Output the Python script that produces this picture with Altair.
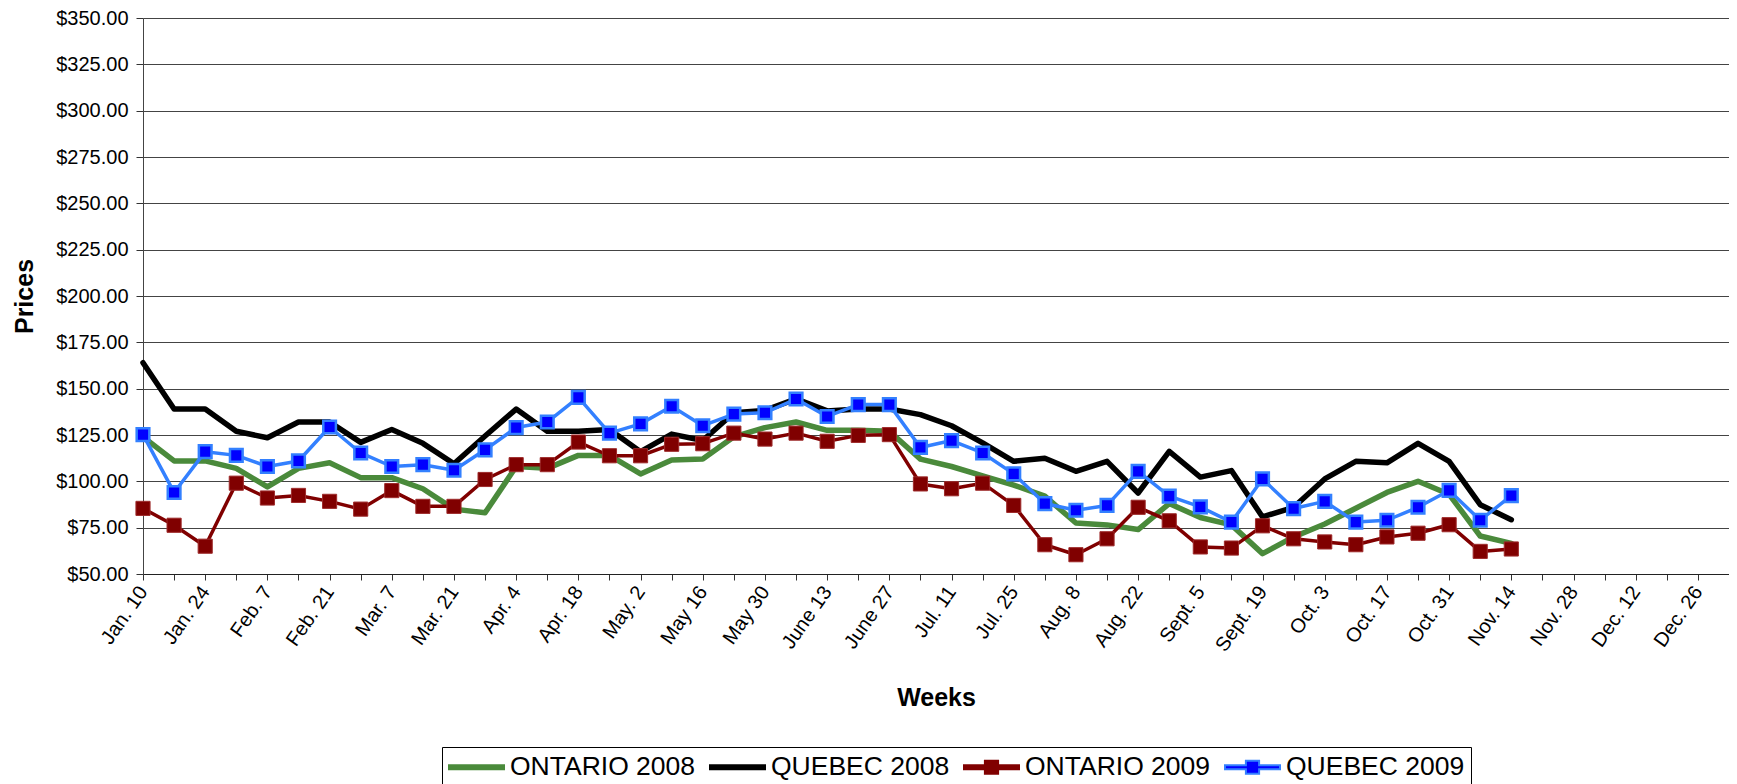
import altair as alt
import pandas as pd

weeks = ["Jan. 10", "Jan. 17", "Jan. 24", "Jan. 31", "Feb. 7", "Feb. 14", "Feb. 21", "Feb. 28",
         "Mar. 7", "Mar. 14", "Mar. 21", "Mar. 28", "Apr. 4", "Apr. 11", "Apr. 18", "Apr. 25",
         "May. 2", "May 9", "May 16", "May 23", "May 30", "June 6", "June 13", "June 20",
         "June 27", "Jul. 4", "Jul. 11", "Jul. 18", "Jul. 25", "Aug. 1", "Aug. 8", "Aug. 15",
         "Aug. 22", "Aug. 29", "Sept. 5", "Sept. 12", "Sept. 19", "Sept. 26", "Oct. 3", "Oct. 10",
         "Oct. 17", "Oct. 24", "Oct. 31", "Nov. 7", "Nov. 14", "Nov. 21", "Nov. 28", "Dec. 5",
         "Dec. 12", "Dec. 19", "Dec. 26"]

ontario_2008 = [124, 111, 111, 107, 97, 107, 110, 102, 102, 96, 85, 83, 108, 107, 114, 114,
                104, 111.5, 112, 124, 129, 132, 127.5, 127.5, 127, 112, 108, 103, 98, 92, 77.5,
                76.5, 74, 88, 80.5, 76.5, 61, 70, 77, 85.5, 94, 100, 93, 70.5, 66.5]

quebec_2008 = [164, 139, 139, 127, 123.5, 132, 132, 121, 128, 120.5, 109.5, 124.5, 139, 127, 127,
               128, 116, 125.5, 122, 137, 138.3, 144.5, 138, 139, 139, 136, 130, 120.7, 110.8,
               112.5, 105.4, 110.8, 93.7, 116.2, 102.3, 105.8, 80.8, 86, 101.3, 110.8, 110,
               120.5, 110.8, 87.4, 79.3]

ontario_2009 = [85.4, 76.3, 65, 99, 91, 92.4, 89.2, 85, 95, 86.5, 86.5, 101, 109, 109, 121.2,
                113.8, 113.8, 120, 120.3, 126, 122.8, 126, 121.6, 124.8, 125.2, 98.6, 96, 99, 87,
                65.8, 60.4, 69, 86, 78.7, 64.6, 64, 76, 69, 67.3, 65.8, 70, 72, 76.6, 62.2, 63.5]

quebec_2009 = [125.2, 94, 116, 114, 108, 111, 129.3, 115.3, 108, 109, 106, 117, 129, 132, 145.3,
               126, 131, 140.5, 130, 136.3, 137, 144.4, 135, 141.4, 141.4, 118.3, 122, 115.3, 104,
               88, 84.4, 87, 105.4, 92, 86.2, 78, 101.3, 85.3, 89.2, 78, 79, 86, 95.1, 79, 92.3]

series_names = ["ONTARIO 2008", "QUEBEC 2008", "ONTARIO 2009", "QUEBEC 2009"]
series_values = [ontario_2008, quebec_2008, ontario_2009, quebec_2009]

GREEN = "#4A8A3B"
BLACK = "#000000"
DARKRED = "#800000"
LIGHTBLUE = "#3380FF"
BLUE = "#0000FF"

line_colors = [GREEN, BLACK, DARKRED, LIGHTBLUE]
fill_colors = [GREEN, BLACK, DARKRED, BLUE]

rows = []
for name, vals in zip(series_names, series_values):
    for i, v in enumerate(vals):
        rows.append({"series": name, "idx": i, "week": weeks[i], "price": v})
df = pd.DataFrame(rows)

FONT = "Liberation Sans"

label_list = [(w if i % 2 == 0 else "") for i, w in enumerate(weeks)] + [""]
label_expr = "[" + ",".join("'" + s + "'" for s in label_list) + "][datum.value]"

x_enc = alt.X(
    "idx:Q",
    scale=alt.Scale(domain=[0, len(weeks)], nice=False, zero=False),
    axis=alt.Axis(
        values=list(range(len(weeks) + 1)),
        labelExpr=label_expr,
        labelAngle=305,
        labelAlign="right",
        labelBaseline="middle",
        labelFontSize=20,
        labelFont=FONT,
        labelColor="black",
        labelPadding=8,
        labelFlush=False,
        labelOverlap=False,
        labelBound=False,
        tickSize=6,
        tickColor="#333333",
        domainColor="#222222",
        grid=False,
        title="Weeks",
        titleFont=FONT,
        titleFontSize=25,
        titleFontWeight="bold",
        titleColor="black",
        titlePadding=31,
    ),
)

y_enc = alt.Y(
    "price:Q",
    scale=alt.Scale(domain=[50, 350], nice=False, zero=False),
    axis=alt.Axis(
        values=list(range(50, 351, 25)),
        format="$,.2f",
        labelFontSize=20,
        labelFont=FONT,
        labelColor="black",
        labelPadding=8,
        tickSize=7,
        tickColor="#333333",
        domainColor="#444444",
        grid=True,
        gridColor="#444444",
        gridWidth=1,
        title="Prices",
        titleFont=FONT,
        titleFontSize=25,
        titleFontWeight="bold",
        titleColor="black",
        titlePadding=18,
    ),
)

def series_data(name):
    return df[df["series"] == name]

layers = []
# 2008 lines (no markers)
for name, col in [("ONTARIO 2008", GREEN), ("QUEBEC 2008", BLACK)]:
    layers.append(
        alt.Chart(series_data(name)).mark_line(
            color=col, strokeWidth=5.5, strokeJoin="round", strokeCap="round"
        ).encode(x=x_enc, y=y_enc)
    )

# 2009 lines with square markers
marker_specs = [
    ("ONTARIO 2009", DARKRED, DARKRED, "#9E2B2B", 1, 200),
    ("QUEBEC 2009", LIGHTBLUE, BLUE, LIGHTBLUE, 2.5, 160),
]
for name, lcol, fcol, scol, sw, size in marker_specs:
    d = series_data(name)
    layers.append(
        alt.Chart(d).mark_line(color=lcol, strokeWidth=3.5, strokeJoin="round").encode(x=x_enc, y=y_enc)
    )
    layers.append(
        alt.Chart(d).mark_point(
            shape="square", filled=True, fill=fcol, stroke=scol, strokeWidth=sw,
            size=size, opacity=1
        ).encode(x=x_enc, y=y_enc)
    )

# legend-only layer (no visible marks); symbol drawn as a 55px line (+ square for 2009)
SYM = 26.0            # nominal symbol size used by the legend layout (px)
HALF_W = 27.5 / (SYM / 2)
LH = 1.95 / (SYM / 2)
SQ = 6.6 / (SYM / 2)
plain_line = f"M{-HALF_W},{-LH}L{HALF_W},{-LH}L{HALF_W},{LH}L{-HALF_W},{LH}Z"
line_square = (f"M{-HALF_W},{-LH}L{-SQ},{-LH}L{-SQ},{-SQ}L{SQ},{-SQ}L{SQ},{-LH}L{HALF_W},{-LH}"
               f"L{HALF_W},{LH}L{SQ},{LH}L{SQ},{SQ}L{-SQ},{SQ}L{-SQ},{LH}L{-HALF_W},{LH}Z")
shape_paths = [plain_line, plain_line, line_square, line_square]

SYM_OFFSET = 27.5 - SYM / 2

legend = alt.Legend(
    orient="none",
    legendX=299,
    legendY=729,
    direction="horizontal",
    title=None,
    labelFont=FONT,
    labelFontSize=26.5,
    labelColor="black",
    labelLimit=0,
    labelOffset=55 - SYM - SYM_OFFSET + 5,
    symbolOffset=SYM_OFFSET,
    columnPadding=10,
    symbolSize=SYM * SYM,
    symbolStrokeWidth=2,
    symbolOpacity=1,
    padding=6,
    strokeColor="black",
    fillColor="white",
)

legend_df = pd.DataFrame({"series": series_names})
legend_layer = alt.Chart(legend_df).mark_point(filled=True, opacity=1, strokeWidth=2).encode(
    shape=alt.Shape("series:N", scale=alt.Scale(domain=series_names, range=shape_paths),
                    legend=legend, sort=series_names),
    fill=alt.Fill("series:N", scale=alt.Scale(domain=series_names, range=fill_colors),
                  legend=legend, sort=series_names),
    stroke=alt.Stroke("series:N", scale=alt.Scale(domain=series_names, range=line_colors),
                      legend=legend, sort=series_names),
).transform_filter("false")

layers.append(legend_layer)

chart = alt.layer(*layers).properties(
    width=1586,
    height=556,
    autosize=alt.AutoSizeParams(type="none"),
    padding={"left": 135, "top": 10, "right": 0, "bottom": 210},
).configure_view(stroke=None).configure(font=FONT)

chart.save("out.html", embed_options={"renderer": "svg", "actions": False})
